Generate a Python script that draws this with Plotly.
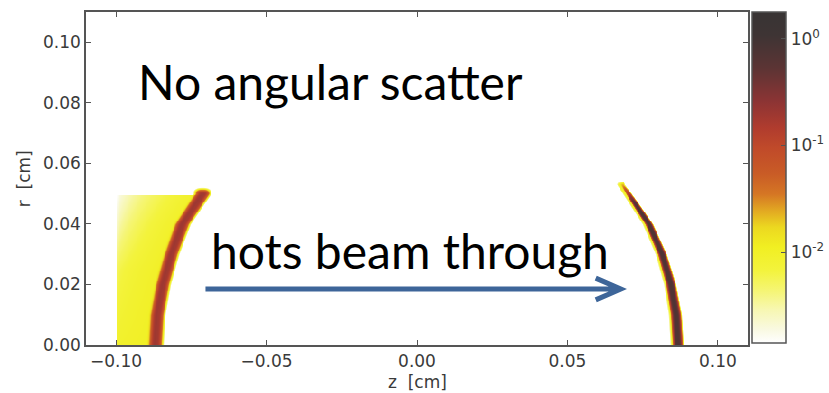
import numpy as np
import plotly.graph_objects as go

# ---- axes, ticks and colour range -------------------------------------
Z_RANGE = [-0.11, 0.11]
R_RANGE = [0.0, 0.11]
Z_TICKS = [-0.10, -0.05, 0.00, 0.05, 0.10]
Z_TICK_TEXT = ["\u22120.10", "\u22120.05", "0.00", "0.05", "0.10"]
R_TICKS = [0.00, 0.02, 0.04, 0.06, 0.08, 0.10]
R_TICK_TEXT = ["0.00", "0.02", "0.04", "0.06", "0.08", "0.10"]
CB_TICKS = [-2, -1, 0]
CB_TICK_TEXT = ["10<sup>-2</sup>", "10<sup>-1</sup>", "10<sup>0</sup>"]
CB_RANGE = [-2.85, 0.25]          # log10 of the density

# ---- left shell: centre line, half width, levels (log10) --------------
LEFT_ARC_R = [0.000, 0.010, 0.020, 0.030, 0.040, 0.050]
LEFT_ARC_Z = [-0.0870, -0.0864, -0.0846, -0.0818, -0.0781, -0.0714]
LEFT_HALF_WIDTH = [0.0015, 0.0015, 0.0015, 0.0015, 0.0016, 0.0017]
LEFT_CORE_LEVEL = -0.75
LEFT_RIM_LEVEL = -2.00

# ---- hot-electron plume behind the left shell --------------------------
PLUME_Z_START = -0.100
PLUME_R_TOP = 0.0497
PLUME_EDGE_R = [0.000, 0.025, 0.0497]
PLUME_EDGE_LEVEL = [-2.05, -2.30, -2.90]
PLUME_INNER_LEVEL = -1.98

# ---- right shell ------------------------------------------------------
RIGHT_ARC_R = [0.000, 0.010, 0.020, 0.030, 0.040, 0.053]
RIGHT_ARC_Z = [0.0866, 0.0860, 0.0843, 0.0814, 0.0770, 0.0683]
RIGHT_HALF_WIDTH = [0.0011, 0.0011, 0.0010, 0.0009, 0.0008, 0.0006]
RIGHT_CORE_LEVEL = -0.15
RIGHT_RIM_LEVEL = -2.00
RIGHT_CORE_FADE_R = 0.045

# ---- labels -----------------------------------------------------------
TITLE_TEXT = "No angular scatter"
BEAM_TEXT = "hots beam through"
BEAM_ARROW_Z = [-0.0703, 0.0677]
BEAM_ARROW_R = 0.0185

COLORSCALE = [
    [0.00, "#ffffff"],
    [0.04, "#f9f9e2"],
    [0.10, "#f7f7b2"],
    [0.16, "#f5f572"],
    [0.22, "#f3f33c"],
    [0.29, "#f1ef22"],
    [0.35, "#ecd820"],
    [0.40, "#e2a822"],
    [0.45, "#d57624"],
    [0.51, "#c95c26"],
    [0.59, "#c04a2a"],
    [0.65, "#b03c2e"],
    [0.73, "#8c3434"],
    [0.83, "#5c3434"],
    [0.93, "#3e3434"],
    [1.00, "#383434"],
]

# ---- density field on the (z, r) grid ---------------------------------
dz = 0.0003
z = np.round(np.arange(Z_RANGE[0], Z_RANGE[1] + dz / 2, dz), 5)
r = np.round(np.arange(R_RANGE[0], R_RANGE[1] + dz / 2, dz), 5)
Z, R = np.meshgrid(z, r)
lin = np.zeros_like(Z)

# left shell
zc_l = np.interp(R, LEFT_ARC_R, LEFT_ARC_Z)
hw_l = np.interp(R, LEFT_ARC_R, LEFT_HALF_WIDTH)
d_l = Z - zc_l
top_l = LEFT_ARC_R[-1]
cap_l = np.exp(-(np.clip(R - top_l, 0, None) / 0.0010) ** 2)
lin += 10 ** LEFT_CORE_LEVEL * np.exp(-np.abs(d_l / hw_l) ** 3) * cap_l
rim_cap_l = np.exp(-(np.clip(R - top_l - 0.0006, 0, None) / 0.0008) ** 2)
lin += 10 ** LEFT_RIM_LEVEL * np.exp(-(d_l / (hw_l + 0.0010)) ** 6) * rim_cap_l

# plume between z = -0.10 and the left shell
inside = (Z >= PLUME_Z_START) & (Z <= zc_l) & (R <= PLUME_R_TOP)
s = np.clip((Z - PLUME_Z_START) / (zc_l - PLUME_Z_START), 0, 1)
edge_level = np.interp(R, PLUME_EDGE_R, PLUME_EDGE_LEVEL)
plume_level = edge_level + (PLUME_INNER_LEVEL - edge_level) * np.sqrt(s)
lin += np.where(inside, 10 ** plume_level, 0.0)

# right shell (yellow rim only on the inner side)
zc_r = np.interp(R, RIGHT_ARC_R, RIGHT_ARC_Z)
hw_r = np.interp(R, RIGHT_ARC_R, RIGHT_HALF_WIDTH)
d_r = Z - zc_r
top_r = RIGHT_ARC_R[-1]
end_r = np.exp(-(np.clip(R - top_r, 0, None) / 0.0008) ** 2)
fade_r = np.exp(-(np.clip(R - RIGHT_CORE_FADE_R, 0, None) / 0.004) ** 2)
lin += 10 ** RIGHT_CORE_LEVEL * np.exp(-np.abs(d_r / hw_r) ** 3) * fade_r * end_r
rim_w = np.where(d_r < 0, hw_r + 0.0012, hw_r * 0.6)
lin += 10 ** RIGHT_RIM_LEVEL * np.exp(-(d_r / rim_w) ** 6) * end_r

field = np.clip(np.log10(np.maximum(lin, 10 ** CB_RANGE[0])), CB_RANGE[0], CB_RANGE[1])
field = np.round(field, 3)

fig = go.Figure(
    go.Heatmap(
        x=z, y=r, z=field,
        zmin=CB_RANGE[0], zmax=CB_RANGE[1],
        colorscale=COLORSCALE, zsmooth="best",
        hoverinfo="skip",
        colorbar=dict(
            x=1.006, xanchor="left", xpad=0,
            y=0.006, yanchor="bottom", ypad=0,
            len=0.994, lenmode="fraction", thickness=34,
            outlinecolor="#555555", outlinewidth=1.5,
            tickvals=CB_TICKS, ticktext=CB_TICK_TEXT,
            ticks="inside", ticklen=5, tickcolor="#555555",
            tickfont=dict(family="DejaVu Sans", size=17, color="#3a3a3a"),
        ),
    )
)

axis_common = dict(
    showgrid=False, zeroline=False,
    showline=True, linecolor="#555555", linewidth=1.5, mirror="ticks",
    ticks="inside", ticklen=5, tickcolor="#555555", tickwidth=1,
    tickfont=dict(family="DejaVu Sans", size=17, color="#3a3a3a"),
)

fig.update_xaxes(range=Z_RANGE, tickvals=Z_TICKS, ticktext=Z_TICK_TEXT, **axis_common)
fig.update_yaxes(range=R_RANGE, tickvals=R_TICKS, ticktext=R_TICK_TEXT, **axis_common)

# beam arrow: shaft plus open chevron head
x0, x1 = BEAM_ARROW_Z
y0 = BEAM_ARROW_R
hx, hy = 0.0083, 0.0036
arrow_path = (f"M{x0},{y0} L{x1},{y0} "
              f"M{x1 - hx},{y0 + hy} L{x1},{y0} L{x1 - hx},{y0 - hy}")
fig.add_shape(type="path", path=arrow_path, xref="x", yref="y",
              line=dict(color="#3d6599", width=5))

fig.add_annotation(text=TITLE_TEXT, x=-0.0935, y=0.0872, xref="x", yref="y",
                   xanchor="left", yanchor="middle", showarrow=False,
                   font=dict(family="Lato", size=48, color="#000000"))
fig.add_annotation(text=BEAM_TEXT, x=-0.0690, y=0.0312, xref="x", yref="y",
                   xanchor="left", yanchor="middle", showarrow=False,
                   font=dict(family="Lato", size=48, color="#000000"))

fig.add_annotation(text="r  [cm]", x=-0.094, y=0.50, xref="paper", yref="paper",
                   textangle=-90, showarrow=False, xanchor="center", yanchor="middle",
                   font=dict(family="DejaVu Sans", size=17, color="#3a3a3a"))
fig.add_annotation(text="z  [cm]", x=0.5, y=-0.112, xref="paper", yref="paper",
                   showarrow=False, xanchor="center", yanchor="middle",
                   font=dict(family="DejaVu Sans", size=17, color="#3a3a3a"))

fig.update_layout(
    width=829, height=393,
    margin=dict(l=86, r=81, t=12, b=48, autoexpand=False),
    paper_bgcolor="#ffffff", plot_bgcolor="#ffffff",
    showlegend=False,
)

fig.write_html("out.html")
